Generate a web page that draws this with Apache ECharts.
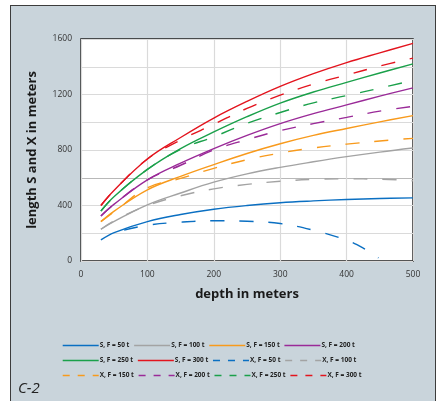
<!DOCTYPE html>
<html>
<head>
<meta charset="utf-8">
<script src="https://cdn.jsdelivr.net/npm/echarts@6/dist/echarts.min.js"></script>
<style>
html,body{margin:0;padding:0;background:#fff;}
#wrap{position:relative;width:442px;height:401px;overflow:hidden;}
#panel{position:absolute;left:10px;top:5px;width:426px;height:400px;background:#c9d4db;border:1.5px solid #3c3c3c;box-sizing:border-box;}
#chart{position:absolute;left:0;top:0;width:442px;height:401px;}
</style>
</head>
<body>
<div id="wrap"><div id="panel"></div><div id="chart"></div></div>
<script>
// depths (m) at which the curves are read
const depths = [30, 50, 100, 150, 200, 250, 300, 350, 400, 450, 500];
// S curves (solid)
const S50  = [152, 205, 284, 335, 373, 400, 420, 433, 443, 450, 455];
const S100 = [229, 285, 405, 490, 568, 628, 675, 715, 752, 785, 814];
const S150 = [284, 360, 513, 610, 695, 775, 845, 905, 955, 1003, 1048];
const S200 = [325, 410, 585, 705, 810, 905, 990, 1062, 1125, 1188, 1248];
const S250 = [360, 465, 660, 810, 930, 1040, 1138, 1218, 1287, 1355, 1421];
const S300 = [400, 510, 735, 890, 1030, 1150, 1258, 1350, 1430, 1500, 1568];
// X curves (dashed)
const depthsX50 = [65, 100, 150, 200, 250, 300, 350, 400, 425, 448];
const X50  = [222, 258, 280, 290, 286, 270, 222, 150, 93, 22];
const X100 = [229, 290, 400, 470, 520, 552, 575, 588, 592, 590, 578];
const X150 = [284, 355, 528, 595, 668, 730, 778, 815, 842, 865, 884];
const X200 = [325, 410, 585, 690, 800, 875, 940, 990, 1035, 1080, 1115];
const X250 = [360, 465, 660, 805, 895, 992, 1070, 1140, 1192, 1246, 1302];
const X300 = [400, 510, 735, 872, 985, 1100, 1195, 1275, 1340, 1405, 1462];
// axis ticks
const xTicks = [0, 100, 200, 300, 400, 500];
const yTicks = [0, 400, 800, 1200, 1600];

const colors = {b:'#0a6fc2', g:'#a3a3a3', o:'#f89a1c', p:'#9a2a98', gr:'#1aa04a', r:'#e3141e'};

function pairs(xs, ys){ return ys.map((v,i)=>[xs[i], v]); }

const defs = [
  {name:'S, F = 50 t',  x:depths, y:S50,  c:colors.b,  d:false},
  {name:'S, F = 100 t', x:depths, y:S100, c:colors.g,  d:false},
  {name:'S, F = 150 t', x:depths, y:S150, c:colors.o,  d:false},
  {name:'S, F = 200 t', x:depths, y:S200, c:colors.p,  d:false},
  {name:'S, F = 250 t', x:depths, y:S250, c:colors.gr, d:false},
  {name:'S, F = 300 t', x:depths, y:S300, c:colors.r,  d:false},
  {name:'X, F = 50 t',  x:depthsX50, y:X50,  c:colors.b,  d:true},
  {name:'X, F = 100 t', x:depths, y:X100, c:colors.g,  d:true},
  {name:'X, F = 150 t', x:depths, y:X150, c:colors.o,  d:true},
  {name:'X, F = 200 t', x:depths, y:X200, c:colors.p,  d:true},
  {name:'X, F = 250 t', x:depths, y:X250, c:colors.gr, d:true},
  {name:'X, F = 300 t', x:depths, y:X300, c:colors.r,  d:true}
];

const series = defs.map(d=>({
  name:d.name, type:'line', smooth:0.4, symbol:'none',
  data:pairs(d.x,d.y),
  lineStyle:{color:d.c, width:1.4, type:d.d?[14,15]:'solid'},
  itemStyle:{color:d.c}
}));

const FONT = '"Open Sans", "Noto Sans", sans-serif';
function legendRow(names, top){
  return {
    top: top, left: 62, orient:'horizontal', selectedMode:false,
    itemWidth: 36, itemHeight: 8, itemGap: 4, padding:0,
    data: names.map(n=>{
      const d = defs.find(e=>e.name===n);
      return {name:n, itemStyle:{opacity:0}, lineStyle:{color:d.c, width:1.4, type:d.d?[7,8]:'solid'}};
    }),
    textStyle:{fontFamily:FONT, fontSize:6.5, fontWeight:'bold', color:'#222', width:44, padding:[0,0,0,-4]}
  };
}

const yColors = ['#dadada','#dadada','#dadada','#b8b8b8','#dadada','#dadada','#dadada','#dadada','#dadada'];

const chart = echarts.init(document.getElementById('chart'), null, {renderer:'canvas'});
chart.setOption({
  backgroundColor:'transparent',
  animation:false,
  title:{text:'C-2', left:13, top:376, textStyle:{fontFamily:FONT, fontSize:15, fontStyle:'italic', fontWeight:'normal', color:'#222'}},
  grid:{left:81, right:29, top:39, bottom:140, show:true, backgroundColor:'#ffffff', borderColor:'#1e1e1e', borderWidth:1.5, containLabel:false},
  legend:[
    legendRow(defs.slice(0,4).map(d=>d.name), 342),
    legendRow(defs.slice(4,8).map(d=>d.name), 357),
    legendRow(defs.slice(8,12).map(d=>d.name), 372)
  ],
  xAxis:{
    type:'value', min:xTicks[0], max:xTicks[xTicks.length-1], interval:100,
    name:'depth in meters', nameLocation:'middle', nameGap:27,
    nameTextStyle:{fontFamily:FONT, fontSize:13, fontWeight:'bold', color:'#1a1a1a'},
    axisLine:{show:false}, axisTick:{show:false},
    axisLabel:{fontFamily:FONT, fontSize:8.5, color:'#333', margin:9},
    splitLine:{show:true, lineStyle:{color:'#dadada', width:1.2}}
  },
  yAxis:{
    type:'value', min:0, max:1600, interval:200,
    name:'length S and X in meters', nameLocation:'middle', nameGap:42,
    nameTextStyle:{fontFamily:FONT, fontSize:13, fontWeight:'bold', color:'#1a1a1a'},
    axisLine:{show:false}, axisTick:{show:false},
    axisLabel:{fontFamily:FONT, fontSize:8.5, color:'#333', margin:9, interval:1,
      formatter:v=> yTicks.indexOf(v)>=0 ? String(v) : ''},
    splitLine:{show:true, lineStyle:{color:yColors, width:1.2}}
  },
  series:series
});
</script>
</body>
</html>
